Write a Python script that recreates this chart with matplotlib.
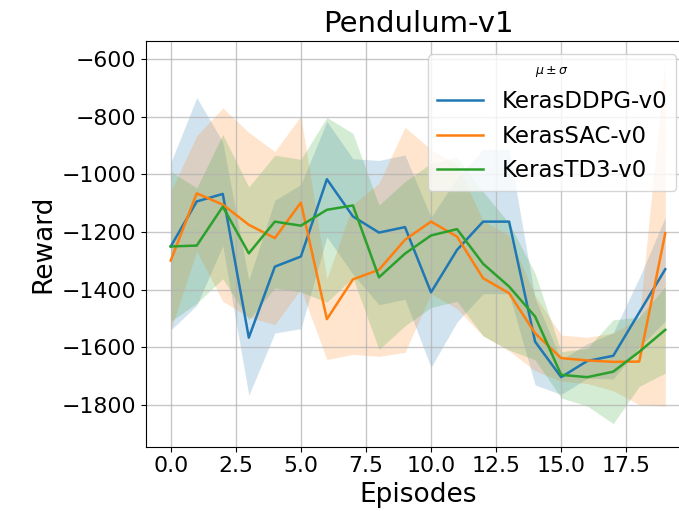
import numpy as np
import matplotlib
matplotlib.use("Agg")
import matplotlib.pyplot as plt

episodes = list(range(20))

ddpg_mean = [-1250, -1094, -1068, -1566, -1320, -1285, -1017, -1146, -1202, -1183,
             -1409, -1262, -1164, -1164, -1580, -1703, -1647, -1629, -1479, -1329]
ddpg_std = [290, 360, 180, 200, 230, 250, 200, 200, 250, 250,
            260, 250, 250, 250, 150, 60, 60, 80, 120, 180]

sac_mean = [-1299, -1066, -1105, -1175, -1221, -1098, -1502, -1364, -1331, -1227,
            -1164, -1216, -1360, -1412, -1551, -1637, -1645, -1650, -1649, -1204]
sac_std = [240, 200, 335, 320, 300, 300, 140, 260, 300, 390,
           250, 250, 200, 200, 130, 80, 80, 100, 150, 600]

td3_mean = [-1250, -1247, -1112, -1274, -1164, -1178, -1123, -1108, -1357, -1275,
            -1212, -1190, -1310, -1389, -1493, -1695, -1703, -1684, -1615, -1539]
td3_std = [260, 200, 250, 230, 230, 230, 320, 250, 250, 250,
           250, 250, 250, 220, 150, 80, 100, 180, 120, 150]

labels = ["KerasDDPG-v0", "KerasSAC-v0", "KerasTD3-v0"]
colors = ["#1f77b4", "#ff7f0e", "#2ca02c"]

fig = plt.figure(figsize=(6.79, 5.11), dpi=100)
ax = fig.add_axes([146/679, 1-446.7/511, (690-146)/679, (446.7-40.7)/511])

x = np.array(episodes)
for m, s, lab, c in zip([ddpg_mean, sac_mean, td3_mean],
                        [ddpg_std, sac_std, td3_std], labels, colors):
    m = np.array(m, float); s = np.array(s, float)
    ax.plot(x, m, color=c, lw=1.8, label=lab)
    ax.fill_between(x, m - s, m + s, color=c, alpha=0.2, lw=0)

ax.set_xlim(-0.95, 19.95)
ax.set_ylim(-1944, -537)
ax.set_xticks([0, 2.5, 5, 7.5, 10, 12.5, 15, 17.5])
ax.set_yticks([-1800, -1600, -1400, -1200, -1000, -800, -600])
ax.grid(True, color="#b0b0b0", lw=1.0, alpha=0.7)
ax.tick_params(labelsize=15.8)
ax.set_xlabel("Episodes", fontsize=19)
ax.set_ylabel("Reward", fontsize=19)
ax.set_title("Pendulum-v1", fontsize=21)
ax.spines["right"].set_visible(False)

leg = ax.legend(loc="upper right", fontsize=16.5, title=r"$\mu \pm \sigma$",
                title_fontsize=9, framealpha=0.8, borderaxespad=0.6)

fig.savefig("out.png", dpi=100)
